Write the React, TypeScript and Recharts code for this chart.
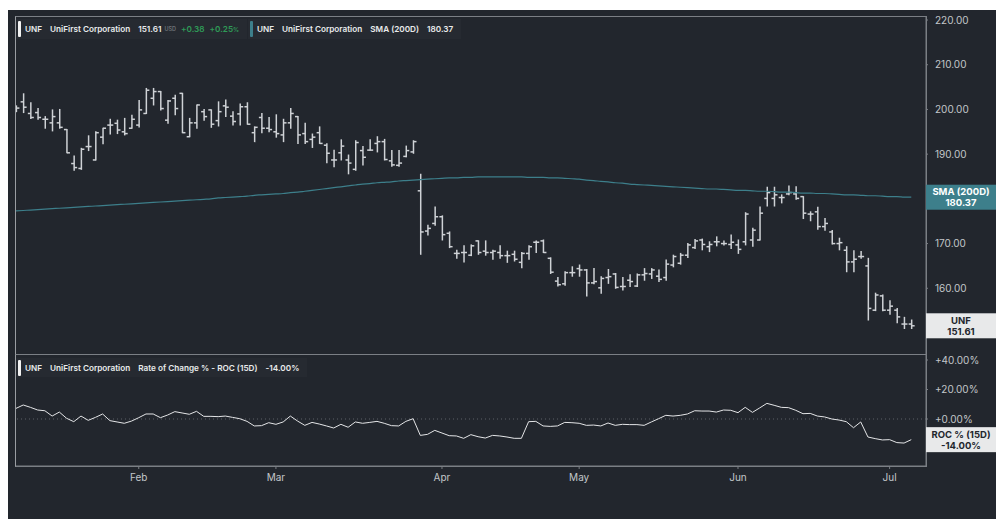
import React from 'react'
import { ComposedChart, LineChart, Bar, Line, XAxis, YAxis, ReferenceLine } from 'recharts'

// UNF daily bars, Jan 6 – Jul 7 (trading days)
const opens = [
  200.0, 201.7, 199.1, 199.3, 197.8, 197.0, 197.0, 195.5, 187.9, 186.8,
  191.7, 188.7, 193.8, 196.5, 196.9, 195.0, 195.8, 196.5, 199.1, 202.5,
  204.0, 197.6, 202.5, 203.6, 193.9, 197.0, 199.5, 199.9, 197.5, 200.8,
  198.5, 199.0, 200.6, 194.8, 198.2, 195.8, 195.0, 194.3, 197.0, 198.4,
  194.6, 193.3, 194.8, 192.0, 188.7, 190.3, 188.7, 186.6, 190.8, 190.9,
  192.4, 192.8, 188.5, 187.5, 189.5, 190.5, 181.8, 172.8, 174.5, 176.0,
  172.3, 167.8, 168.0, 167.4, 170.6, 168.3, 168.0, 168.0, 167.3, 167.6,
  165.8, 167.8, 170.3, 170.6, 166.7, 161.6, 161.0, 163.5, 164.4, 164.1,
  161.2, 160.1, 162.4, 163.2, 160.4, 161.8, 160.5, 163.0, 163.2, 162.7,
  162.4, 165.2, 165.6, 167.4, 169.1, 170.8, 169.3, 170.4, 170.0, 169.8,
  169.7, 170.4, 170.8, 170.8, 180.1, 180.1, 180.3, 181.1, 181.1, 180.5,
  176.6, 177.1, 173.8, 172.6, 170.0, 168.5, 165.9, 167.1, 165.0, 155.1,
  158.3, 155.1, 155.1, 152.0, 152.0,
]
const highs = [
  200.8, 203.5, 201.5, 200.2, 198.4, 199.9, 200.0, 195.5, 189.6, 191.3,
  194.1, 195.0, 195.8, 197.8, 197.6, 198.0, 198.7, 202.0, 204.7, 204.7,
  204.0, 202.0, 203.2, 203.6, 198.0, 201.0, 200.0, 199.9, 201.7, 202.1,
  199.5, 201.2, 201.5, 196.1, 199.1, 198.2, 198.8, 197.8, 200.2, 198.4,
  196.9, 194.5, 196.1, 192.3, 190.9, 193.2, 189.8, 193.0, 191.7, 193.2,
  193.9, 193.3, 190.8, 190.8, 191.8, 193.0, 185.5, 174.1, 178.2, 176.2,
  172.6, 168.5, 169.5, 169.7, 170.6, 170.6, 168.5, 169.5, 168.3, 168.3,
  168.0, 169.5, 170.6, 170.8, 166.8, 162.4, 163.7, 164.8, 165.2, 164.2,
  164.4, 162.6, 164.2, 163.3, 162.4, 163.0, 163.2, 164.4, 164.4, 164.1,
  166.3, 167.4, 167.8, 170.0, 170.9, 171.0, 170.4, 171.5, 170.6, 171.9,
  170.8, 176.9, 173.4, 178.2, 182.6, 182.6, 180.9, 182.9, 182.7, 180.5,
  177.1, 178.1, 175.6, 172.9, 171.2, 169.3, 168.4, 168.2, 166.7, 158.9,
  158.5, 157.2, 155.5, 153.5, 152.9,
]
const lows = [
  199.5, 199.3, 198.0, 197.8, 195.8, 195.2, 195.8, 190.3, 186.4, 186.6,
  190.8, 188.7, 192.3, 194.5, 194.6, 194.3, 195.8, 196.1, 199.1, 201.0,
  199.9, 196.9, 198.8, 194.8, 193.9, 195.8, 197.6, 196.0, 196.3, 198.4,
  196.5, 196.5, 196.7, 192.8, 194.8, 195.0, 193.8, 192.8, 195.8, 192.4,
  192.4, 191.5, 192.4, 188.1, 187.2, 188.7, 185.6, 186.4, 187.6, 190.9,
  190.5, 188.7, 187.3, 187.3, 189.4, 190.2, 167.6, 171.9, 174.1, 170.8,
  169.1, 166.7, 165.9, 167.3, 167.6, 167.4, 166.5, 166.7, 165.8, 166.1,
  164.6, 166.5, 168.0, 168.0, 163.3, 160.5, 160.7, 162.7, 162.7, 158.3,
  161.0, 158.9, 161.1, 160.0, 159.6, 160.4, 160.4, 161.8, 162.2, 161.5,
  161.8, 164.8, 165.4, 166.9, 168.9, 168.6, 168.2, 169.5, 169.7, 168.9,
  167.8, 169.7, 169.4, 170.8, 178.4, 178.4, 179.1, 180.9, 179.9, 175.6,
  175.1, 173.2, 173.0, 169.9, 168.6, 163.7, 163.7, 166.7, 152.9, 155.0,
  155.0, 154.2, 152.3, 151.0, 151.0,
]
const closes = [
  200.3, 200.5, 198.2, 198.2, 197.8, 198.4, 196.0, 190.3, 187.0, 191.1,
  191.7, 194.8, 195.8, 196.5, 195.4, 194.6, 197.8, 199.9, 204.3, 204.0,
  200.2, 201.9, 200.2, 194.8, 197.0, 201.0, 198.4, 196.7, 199.5, 200.5,
  197.3, 200.6, 196.7, 196.0, 195.8, 195.5, 194.6, 197.0, 199.1, 194.3,
  192.8, 193.8, 192.4, 190.2, 188.7, 191.8, 188.0, 192.6, 189.3, 190.9,
  192.8, 188.8, 187.6, 188.0, 190.8, 192.8, 172.6, 173.4, 176.0, 172.0,
  169.3, 167.8, 168.0, 169.5, 168.0, 168.0, 168.3, 167.3, 167.3, 166.5,
  167.8, 169.3, 170.3, 168.0, 163.6, 160.8, 163.5, 163.5, 164.1, 161.2,
  161.5, 162.2, 162.6, 160.2, 160.4, 161.5, 163.0, 163.3, 164.1, 162.0,
  165.4, 167.1, 167.4, 169.7, 170.6, 169.8, 169.8, 170.4, 170.0, 170.3,
  168.7, 176.6, 173.0, 176.8, 181.4, 180.9, 180.3, 181.4, 180.1, 176.8,
  176.6, 173.8, 174.5, 170.0, 170.2, 165.9, 166.5, 167.1, 155.5, 158.5,
  155.1, 156.0, 153.6, 152.0, 151.61,
]
const sma200 = [
  177.3, 177.4, 177.5, 177.6, 177.7, 177.8, 177.9, 178.0, 178.1, 178.2,
  178.3, 178.4, 178.5, 178.6, 178.7, 178.8, 178.9, 179.0, 179.1, 179.2,
  179.3, 179.4, 179.5, 179.6, 179.7, 179.8, 179.9, 180.0, 180.2, 180.3,
  180.4, 180.5, 180.6, 180.8, 180.9, 181.0, 181.1, 181.2, 181.4, 181.5,
  181.7, 181.9, 182.1, 182.3, 182.5, 182.7, 182.9, 183.1, 183.3, 183.4,
  183.6, 183.7, 183.8, 184.0, 184.1, 184.2, 184.3, 184.4, 184.5, 184.6,
  184.7, 184.7, 184.8, 184.8, 184.9, 184.9, 184.9, 184.9, 184.9, 184.9,
  184.9, 184.8, 184.8, 184.8, 184.7, 184.7, 184.6, 184.5, 184.4, 184.2,
  184.1, 183.9, 183.8, 183.6, 183.5, 183.3, 183.2, 183.1, 183.0, 182.9,
  182.8, 182.7, 182.6, 182.5, 182.4, 182.3, 182.2, 182.2, 182.1, 182.0,
  181.9, 181.9, 181.8, 181.7, 181.7, 181.6, 181.5, 181.5, 181.4, 181.3,
  181.3, 181.2, 181.2, 181.1, 181.0, 180.9, 180.9, 180.8, 180.7, 180.7,
  180.6, 180.5, 180.5, 180.4, 180.37,
]
const roc15 = [
  7.2, 9.5, 7.9, 6.1, 5.6, 2.0, 4.7, 0.5, -1.8, 2.0,
  -0.9, 1.1, 3.4, -1.1, -2.0, -2.9, -1.4, 0.9, 3.4, 3.4,
  0.9, 2.7, 5.0, 4.1, 3.2, 5.2, 1.8, 1.8, 1.6, 2.0,
  1.1, 0.2, -1.6, -4.7, -4.5, -2.5, -3.6, -2.0, 2.0, -1.4,
  -4.3, -2.3, -3.4, -4.7, -6.1, -3.6, -5.6, -2.0, -2.9, -2.3,
  -1.6, -2.9, -4.5, -4.7, -1.6, 0.2, -11.1, -10.4, -7.7, -9.5,
  -11.3, -11.5, -13.1, -10.6, -12.0, -12.9, -11.1, -11.5, -12.2, -13.1,
  -13.1, -1.8, -1.6, -4.7, -5.0, -4.7, -2.3, -2.5, -2.9, -4.3,
  -4.1, -4.7, -2.7, -4.3, -3.6, -3.8, -3.8, -4.3, -2.0, 0.2,
  2.5, 2.0, 2.5, 3.4, 5.6, 5.4, 5.4, 4.7, 6.1, 5.9,
  4.3, 7.9, 4.5, 7.5, 10.6, 9.3, 7.9, 7.7, 5.9, 3.6,
  3.8, 2.0, 1.4, 0.0, -0.7, -1.8, -5.9, -2.0, -12.2, -13.3,
  -14.2, -14.0, -16.0, -16.3, -14.0,
]

const monthTicks = [17, 36, 59, 78, 100, 121]
const monthLabels = ['Feb', 'Mar', 'Apr', 'May', 'Jun', 'Jul']
const priceTicks = [150, 160, 170, 180, 190, 200, 210, 220]
const rocTicks = [-20, 0, 20, 40]

const data = closes.map((close, i) => ({
  i,
  open: opens[i],
  high: highs[i],
  low: lows[i],
  close,
  range: [lows[i], highs[i]],
  sma: sma200[i],
  roc: roc15[i],
}))

const last = data[data.length - 1]

const BG = '#22262d'
const GRID = '#7b7f85'
const AXIS_TEXT = '#c3c6ca'
const TEAL = '#3d7f8b'
const FONT = 'Inter, "Noto Sans", sans-serif'
const X_DOMAIN: [number, number] = [-0.14, 126.04]
const PRICE_DOMAIN: [number, number] = [145.3, 220.9]
const ROC_DOMAIN: [number, number] = [-31.86, 44.07]

function OhlcBar(props: any) {
  const { x, y, width, height, payload } = props
  if (!payload) return null
  const cx = x + width / 2
  const top = Math.min(y, y + height)
  const h = Math.abs(height)
  const span = payload.high - payload.low || 1
  const yOpen = top + ((payload.high - payload.open) / span) * h
  const yClose = top + ((payload.high - payload.close) / span) * h
  return (
    <g stroke="#cfd2d6" strokeWidth={1.5}>
      <line x1={cx} x2={cx} y1={top - 0.5} y2={top + h + 0.5} />
      <line x1={cx - 3} x2={cx} y1={yOpen} y2={yOpen} />
      <line x1={cx} x2={cx + 3} y1={yClose} y2={yClose} />
    </g>
  )
}

function SideTag({ viewBox, lines, fill, color }: any) {
  if (!viewBox) return null
  const left = viewBox.x + viewBox.width
  const y = viewBox.y
  return (
    <g>
      <rect x={left} y={y - 12.5} width={70} height={25} fill={fill} />
      <text x={left + 35} y={y - 2} textAnchor="middle" fill={color} fontSize={9.5} fontWeight={700} fontFamily={FONT}>
        {lines[0]}
      </text>
      <text x={left + 35} y={y + 9} textAnchor="middle" fill={color} fontSize={9.5} fontWeight={700} fontFamily={FONT}>
        {lines[1]}
      </text>
    </g>
  )
}

const legendBox: React.CSSProperties = {
  position: 'absolute',
  display: 'flex',
  alignItems: 'center',
  height: 20,
  paddingRight: 8,
  background: '#262a31',
  fontFamily: FONT,
  fontSize: 8.2,
  fontWeight: 600,
  color: '#e9eaec',
  whiteSpace: 'nowrap',
}

function Marker({ color }: { color: string }) {
  return (
    <div
      style={{ flexShrink: 0, width: 3, height: 16, background: color, borderRadius: 1, marginLeft: 2, marginRight: 4 }}
    />
  )
}

const yTick = { fill: AXIS_TEXT, fontSize: 10, fontFamily: FONT }

export default function App() {
  return (
    <div style={{ position: 'relative', width: 996, height: 519, background: '#fff', overflow: 'hidden' }}>
      <style>{'body{margin:0;overflow:hidden}'}</style>
      <div style={{ position: 'absolute', left: 8, top: 10, right: 0, bottom: 0, background: BG }} />

      {/* price panel */}
      <div style={{ position: 'absolute', left: 0, top: 0 }}>
        <ComposedChart width={996} height={360} data={data} margin={{ top: 16, right: 0, left: 15, bottom: 6 }}>
          <XAxis dataKey="i" type="number" domain={X_DOMAIN} allowDataOverflow hide />
          <YAxis
            yAxisId="p"
            orientation="right"
            width={70}
            type="number"
            domain={PRICE_DOMAIN}
            allowDataOverflow
            ticks={priceTicks}
            tickFormatter={(v: number) => v.toFixed(2)}
            tick={yTick}
            tickSize={2}
            tickMargin={7}
            tickLine={{ stroke: GRID }}
            axisLine={{ stroke: GRID }}
          />
          <Line
            yAxisId="p"
            dataKey="sma"
            type="monotone"
            stroke={TEAL}
            strokeWidth={1.2}
            dot={false}
            isAnimationActive={false}
          />
          <Bar yAxisId="p" dataKey="range" barSize={6} shape={<OhlcBar />} isAnimationActive={false} />
        </ComposedChart>
      </div>

      {/* ROC panel */}
      <div style={{ position: 'absolute', left: 0, top: 354 }}>
        <LineChart width={996} height={165} data={data} margin={{ top: 0, right: 0, left: 15, bottom: 23 }}>
          <XAxis
            dataKey="i"
            type="number"
            domain={X_DOMAIN}
            allowDataOverflow
            ticks={monthTicks}
            tickFormatter={(v: number) => monthLabels[monthTicks.indexOf(v)] ?? ''}
            tick={{ fill: AXIS_TEXT, fontSize: 10, fontFamily: FONT }}
            tickSize={3}
            tickMargin={5}
            tickLine={{ stroke: GRID }}
            axisLine={{ stroke: GRID }}
            height={30}
          />
          <YAxis
            orientation="right"
            width={70}
            type="number"
            domain={ROC_DOMAIN}
            allowDataOverflow
            ticks={rocTicks}
            tickFormatter={(v: number) => (v >= 0 ? '+' : '') + v.toFixed(2) + '%'}
            tick={yTick}
            tickSize={2}
            tickMargin={7}
            tickLine={{ stroke: GRID }}
            axisLine={{ stroke: GRID }}
          />
          <ReferenceLine y={0} stroke="#5d6168" strokeDasharray="1 3" />
          <Line dataKey="roc" type="linear" stroke="#e4e5e7" strokeWidth={1} dot={false} isAnimationActive={false} />
        </LineChart>
      </div>

      {/* panel frames */}
      <div style={{ position: 'absolute', left: 15, top: 16, width: 912, height: 339, boxSizing: 'border-box', border: `1px solid ${GRID}`, borderLeftColor: '#9a9da2' }} />
      <div style={{ position: 'absolute', left: 15, top: 354, width: 912, height: 113, boxSizing: 'border-box', border: `1px solid ${GRID}`, borderLeftColor: '#9a9da2' }} />

      {/* last-value tags, drawn above the axis labels */}
      <div style={{ position: 'absolute', left: 0, top: 0 }}>
        <ComposedChart width={996} height={360} data={data} margin={{ top: 16, right: 70, left: 15, bottom: 6 }}>
          <XAxis dataKey="i" type="number" domain={X_DOMAIN} allowDataOverflow hide />
          <YAxis yAxisId="p" type="number" domain={PRICE_DOMAIN} allowDataOverflow hide />
          <ReferenceLine
            yAxisId="p"
            y={last.sma}
            stroke="none"
            label={(p: any) => <SideTag viewBox={p.viewBox} lines={['SMA (200D)', last.sma.toFixed(2)]} fill={TEAL} color="#fff" />}
          />
          <ReferenceLine
            yAxisId="p"
            y={last.close}
            stroke="none"
            label={(p: any) => <SideTag viewBox={p.viewBox} lines={['UNF', last.close.toFixed(2)]} fill="#e8e9ea" color="#22262d" />}
          />
        </ComposedChart>
      </div>
      <div style={{ position: 'absolute', left: 0, top: 354 }}>
        <LineChart width={996} height={165} data={data} margin={{ top: 0, right: 70, left: 15, bottom: 53 }}>
          <XAxis dataKey="i" type="number" domain={X_DOMAIN} allowDataOverflow hide />
          <YAxis type="number" domain={ROC_DOMAIN} allowDataOverflow hide />
          <ReferenceLine
            y={last.roc}
            stroke="none"
            label={(p: any) => <SideTag viewBox={p.viewBox} lines={['ROC % (15D)', last.roc.toFixed(2) + '%']} fill="#e8e9ea" color="#22262d" />}
          />
        </LineChart>
      </div>

      {/* legends */}
      <div style={{ ...legendBox, left: 16, top: 19 }}>
        <Marker color="#f2f2f2" />
        <span style={{ marginRight: 8 }}>UNF</span>
        <span style={{ marginRight: 8 }}>UniFirst Corporation</span>
        <span style={{ marginRight: 3 }}>151.61</span>
        <span style={{ fontSize: 5.5, color: '#6d7177', marginRight: 5 }}>USD</span>
        <span style={{ color: '#2f9a57', marginRight: 5 }}>+0.38</span>
        <span style={{ color: '#2f9a57' }}>
          +0.25<span style={{ fontSize: 6 }}>%</span>
        </span>
      </div>
      <div style={{ ...legendBox, left: 248, top: 19 }}>
        <Marker color={TEAL} />
        <span style={{ marginRight: 8 }}>UNF</span>
        <span style={{ marginRight: 8 }}>UniFirst Corporation</span>
        <span style={{ marginRight: 8 }}>SMA (200D)</span>
        <span>180.37</span>
      </div>
      <div style={{ ...legendBox, left: 16, top: 358, height: 19 }}>
        <Marker color="#f2f2f2" />
        <span style={{ marginRight: 8 }}>UNF</span>
        <span style={{ marginRight: 8 }}>UniFirst Corporation</span>
        <span style={{ marginRight: 8 }}>Rate of Change % - ROC (15D)</span>
        <span>-14.00%</span>
      </div>
    </div>
  )
}
